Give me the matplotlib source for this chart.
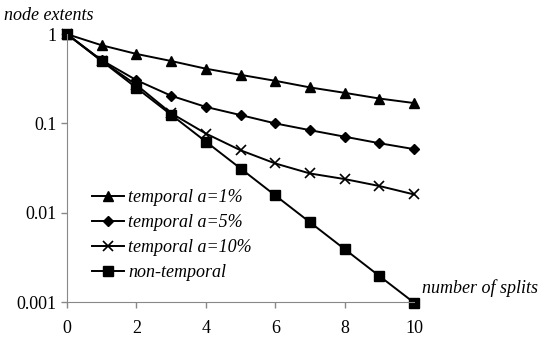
import matplotlib
matplotlib.use('Agg')
from matplotlib import pyplot as plt

splits = [0, 1, 2, 3, 4, 5, 6, 7, 8, 9, 10]
temporal_1 = [1, 0.75, 0.6, 0.5, 0.41, 0.35, 0.30, 0.253, 0.22, 0.19, 0.169]
temporal_5 = [1, 0.51, 0.305, 0.204, 0.153, 0.124, 0.1, 0.084, 0.071, 0.06, 0.0515]
temporal_10 = [1, 0.5, 0.27, 0.13, 0.077, 0.05, 0.0356, 0.0275, 0.0238, 0.0199, 0.016]
non_temporal = [1, 0.5, 0.25, 0.125, 0.0625, 0.03125, 0.0156, 0.0078, 0.0039, 0.00195, 0.00098]
y_ticks = [1, 0.1, 0.01, 0.001]
y_labels = ['1', '0.1', '0.01', '0.001']
x_ticks = [0, 2, 4, 6, 8, 10]

plt.rcParams['font.family'] = ['Liberation Serif', 'DejaVu Serif']

fig = plt.figure(figsize=(5.45, 3.38), dpi=100)
ax = fig.add_axes([0.123, 0.1065, 0.637, 0.7925])

ax.plot(splits, temporal_1, color='black', marker='^', markersize=7.5, lw=1.4, label='temporal a=1%')
ax.plot(splits, temporal_5, color='black', marker='D', markersize=5, lw=1.4, label='temporal a=5%')
ax.plot(splits, temporal_10, color='black', marker='x', markersize=7, mew=1.2, lw=1.4, label='temporal a=10%')
ax.plot(splits, non_temporal, color='black', marker='s', markersize=7, lw=1.4, label='non-temporal')

ax.set_yscale('log')
ax.set_ylim(0.001, 1)
ax.set_xlim(0, 10)
ax.set_yticks(y_ticks)
ax.set_yticklabels(y_labels)
ax.minorticks_off()
ax.set_xticks(x_ticks)
ax.tick_params(labelsize=13, color='#888888', length=4, width=1)
ax.tick_params(axis='x', pad=9)

for side in ['top', 'right']:
    ax.spines[side].set_visible(False)
for side in ['left', 'bottom']:
    ax.spines[side].set_color('#888888')
for line in ax.lines:
    line.set_clip_on(False)

fig.text(0.008, 0.955, 'node extents', fontsize=13, style='italic', va='center')
fig.text(0.775, 0.148, 'number of splits', fontsize=13, style='italic', va='center')

ax.legend(loc='lower left', bbox_to_anchor=(0.035, 0.03), frameon=False,
          prop={'style': 'italic', 'size': 13}, handlelength=1.8, handletextpad=0.2,
          labelspacing=0.45, borderpad=0.2)

fig.savefig('out.png', dpi=100)
